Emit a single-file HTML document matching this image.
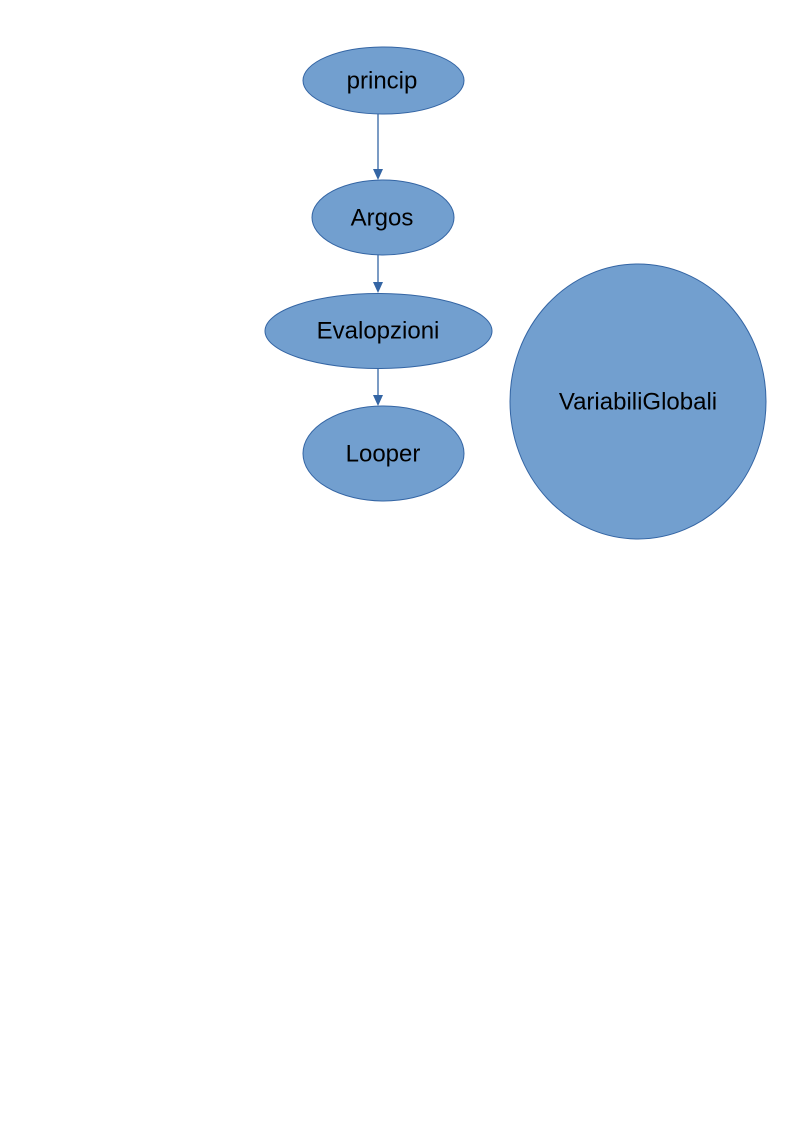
<!DOCTYPE html>
<html><head><meta charset="utf-8"><style>
html,body{margin:0;padding:0;background:#fff;width:794px;height:1123px;overflow:hidden}
svg{display:block}
text{font-family:"Liberation Sans",sans-serif;font-size:24px;fill:#000;text-anchor:middle;dominant-baseline:central}
</style></head><body>
<svg width="794" height="1123" viewBox="0 0 794 1123">
<g fill="#729fcf" stroke="#3465a4" stroke-width="1">
<ellipse cx="383.5" cy="80.5" rx="80.5" ry="33.5"/>
<ellipse cx="383" cy="217.5" rx="71" ry="37.5"/>
<ellipse cx="378.5" cy="331" rx="113.5" ry="37.5"/>
<ellipse cx="383.5" cy="453.5" rx="80.5" ry="47.5"/>
<ellipse cx="638" cy="401.5" rx="128" ry="137.5"/>
</g>
<g stroke="#3465a4" stroke-width="1.3" fill="#3465a4">
<line x1="378" y1="114" x2="378" y2="170"/>
<polygon points="373,169 383,169 378,180" stroke="none"/>
<line x1="378" y1="255" x2="378" y2="283"/>
<polygon points="373,282 383,282 378,293" stroke="none"/>
<line x1="378" y1="369" x2="378" y2="396"/>
<polygon points="373,395 383,395 378,406" stroke="none"/>
</g>
<text x="382" y="81">princip</text>
<text x="382" y="218">Argos</text>
<text x="378" y="331">Evalopzioni</text>
<text x="383" y="454">Looper</text>
<text x="638" y="402">VariabiliGlobali</text>
</svg>
</body></html>
